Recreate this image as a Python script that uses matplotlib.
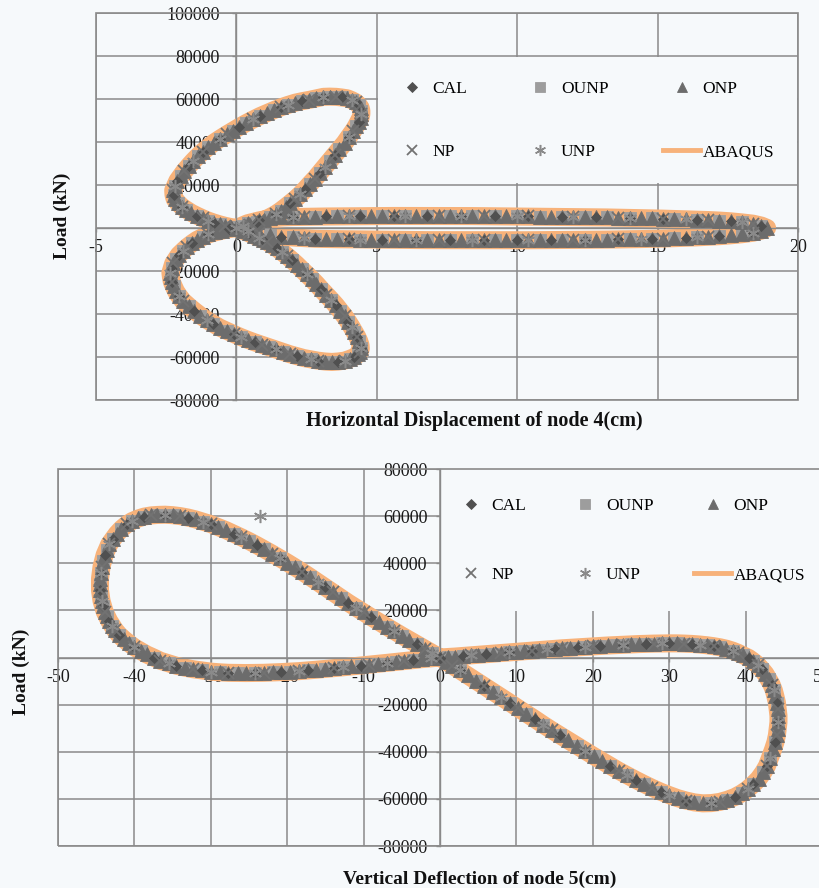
"""Load-displacement loops of nodes 4 and 5: CAL / neural-network variants against ABAQUS."""

import matplotlib

matplotlib.use("Agg")
import matplotlib.pyplot as plt
import numpy as np
from matplotlib.lines import Line2D
from matplotlib.patches import Rectangle

plt.rcParams["font.family"] = ["Liberation Serif", "DejaVu Serif"]
plt.rcParams["axes.unicode_minus"] = False

BG = "#f6f9fb"
GRID = "#8a8a8a"
ORANGE = "#f7b27a"

# node 4, horizontal displacement (cm) against load (kN): three loops through the origin
n4_upper_x = [0.0, 0.25, 0.5, 0.75, 1.0, 1.2, 1.4, 1.58, 1.75, 1.92, 2.1, 2.28, 2.45, 2.62,
              2.8, 2.97, 3.15, 3.32, 3.5, 3.67, 3.85, 4.0, 4.15, 4.26, 4.35, 4.42, 4.45,
              4.45, 4.42, 4.35, 4.25, 4.1, 3.95, 3.75, 3.55, 3.32, 3.1, 2.85, 2.6, 2.35,
              2.1, 1.85, 1.6, 1.35, 1.1, 0.85, 0.6, 0.35, 0.1, -0.12, -0.35, -0.58, -0.8,
              -1.0, -1.2, -1.38, -1.55, -1.7, -1.85, -1.98, -2.1, -2.18, -2.25, -2.24,
              -2.2, -2.08, -1.95, -1.78, -1.6, -1.4, -1.2, -1.0, -0.8, -0.6, -0.4, -0.2, 0.0]
n4_upper_y = [0, 700, 1500, 2600, 3800, 5100, 6500, 8100, 9800, 11600, 13500, 15700, 18000,
              20500, 23000, 25700, 28500, 31200, 34000, 36700, 39500, 42300, 45000, 47300,
              49500, 51300, 53000, 54600, 56000, 57300, 58500, 59500, 60300, 60700, 61000,
              61100, 61000, 60300, 59600, 59000, 58300, 57300, 56200, 54900, 53500, 52100,
              50500, 48800, 47000, 45300, 43500, 41600, 39700, 37600, 35500, 33300, 31000,
              28800, 26500, 24200, 22000, 19700, 17500, 15500, 13500, 11700, 10000, 8500,
              7000, 5700, 4500, 3400, 2500, 1700, 1000, 450, 0]

n4_right_x = [0.0, 0.4, 0.8, 1.2, 1.6, 2.0, 2.4, 2.8, 3.2, 3.6, 4.0, 4.4, 4.8, 5.2, 5.6,
              6.0, 6.4, 6.8, 7.2, 7.6, 8.0, 8.4, 8.8, 9.2, 9.6, 10.0, 10.4, 10.8, 11.2,
              11.6, 12.0, 12.4, 12.8, 13.2, 13.6, 14.0, 14.4, 14.8, 15.2, 15.6, 16.0, 16.4,
              16.8, 17.2, 17.6, 18.0, 18.4, 18.7, 18.9, 18.7, 18.4, 18.0, 17.6, 17.2, 16.8,
              16.4, 16.0, 15.6, 15.2, 14.8, 14.4, 14.0, 13.6, 13.2, 12.8, 12.4, 12.0, 11.6,
              11.2, 10.8, 10.4, 10.0, 9.6, 9.2, 8.8, 8.4, 8.0, 7.6, 7.2, 6.8, 6.4, 6.0, 5.6,
              5.2, 4.8, 4.4, 4.0, 3.6, 3.2, 2.8, 2.4, 2.0, 1.6, 1.2, 0.8, 0.4, 0.0]
n4_right_y = [0, 2200, 3500, 4500, 4900, 5100, 5200, 5300, 5350, 5400, 5450, 5500, 5500,
              5550, 5600, 5600, 5600, 5600, 5600, 5600, 5600, 5550, 5500, 5500, 5450, 5400,
              5350, 5300, 5250, 5200, 5100, 5050, 5000, 4900, 4800, 4700, 4600, 4450, 4350,
              4200, 4050, 3900, 3700, 3450, 3100, 2600, 2000, 1100, 0, -1200, -2200, -2900,
              -3400, -3800, -4100, -4350, -4550, -4750, -4900, -5050, -5150, -5250, -5300,
              -5400, -5450, -5500, -5550, -5600, -5600, -5650, -5700, -5700, -5700, -5700,
              -5700, -5700, -5700, -5700, -5700, -5650, -5600, -5600, -5550, -5500, -5400,
              -5350, -5300, -5200, -5100, -5000, -4700, -4400, -4000, -3300, -2500, -1400, 0]

n4_lower_x = [0.0, 0.22, 0.45, 0.62, 0.8, 0.95, 1.1, 1.28, 1.45, 1.62, 1.8, 1.98, 2.15,
              2.32, 2.5, 2.68, 2.85, 3.02, 3.2, 3.38, 3.55, 3.7, 3.85, 3.98, 4.1, 4.2, 4.3,
              4.37, 4.42, 4.43, 4.4, 4.32, 4.2, 4.03, 3.85, 3.62, 3.4, 3.15, 2.9, 2.65, 2.4,
              2.15, 1.9, 1.65, 1.4, 1.15, 0.9, 0.65, 0.4, 0.15, -0.1, -0.35, -0.6, -0.82,
              -1.05, -1.28, -1.5, -1.7, -1.9, -2.03, -2.15, -2.23, -2.3, -2.33, -2.35, -2.3,
              -2.25, -2.15, -2.05, -1.9, -1.75, -1.58, -1.4, -1.2, -1.0, -0.75, -0.5, -0.25,
              0.0]
n4_lower_y = [0, -1200, -2500, -3500, -4500, -5500, -6500, -8000, -9500, -11200, -13000,
              -15000, -17000, -19200, -21500, -23700, -26000, -28500, -31000, -33500,
              -36000, -38500, -41000, -43500, -46000, -48300, -50500, -52500, -54500,
              -56000, -57500, -58800, -60000, -60900, -61700, -62100, -62300, -62100,
              -61700, -61100, -60500, -59600, -58700, -57600, -56500, -55400, -54300,
              -53200, -52000, -50700, -49300, -47800, -46300, -44600, -42800, -40700,
              -38500, -36300, -34000, -31800, -29500, -27200, -25000, -22900, -20800,
              -18600, -16500, -14500, -12500, -10600, -8800, -7100, -5500, -4200, -3000,
              -2000, -1200, -500, 0]

# node 5, vertical deflection (cm) against load (kN): figure-of-eight
n5_left_x = [0, -1, -2, -3, -4, -5, -6, -7, -8, -9, -10, -11, -12, -13, -14, -15, -16, -17,
             -18, -19, -20, -21, -22, -23, -24, -25, -26, -27, -28, -29, -30, -31, -32, -33,
             -34, -35, -36, -37, -37.8, -38.7, -39.5, -40.3, -41, -41.7, -42.3, -42.8,
             -43.3, -43.6, -43.9, -44.1, -44.3, -44.4, -44.5, -44.5, -44.5, -44.4, -44.3,
             -44.1, -43.9, -43.6, -43.3, -42.9, -42.5, -42.0, -41.4, -40.7, -40.0, -39.2,
             -38.4, -37.5, -36.6, -35.5, -34.5, -33.4, -32.3, -31.1, -30, -28.8, -27.7,
             -26.5, -25.4, -24.2, -23.1, -21.9, -20.8, -19.6, -18.5, -17.3, -16.2, -15,
             -13.9, -12.7, -11.6, -10.4, -9.3, -8.1, -7, -5.8, -4.7, -3.5, -2.4, -1.2, 0]
n5_left_y = [0, 1850, 3700, 5550, 7400, 9300, 11200, 13150, 15100, 17100, 19100, 21150,
             23200, 25400, 27600, 29800, 32000, 34150, 36300, 38300, 40300, 42200, 44100,
             45900, 47700, 49400, 51000, 52500, 54000, 55300, 56600, 57600, 58600, 59400,
             60000, 60400, 60600, 60500, 60300, 59800, 59000, 57900, 56500, 54600, 52500,
             50300, 48000, 45800, 43500, 41000, 38500, 36000, 33500, 31000, 28500, 26200,
             24000, 21700, 19500, 17500, 15500, 13500, 11500, 9600, 7800, 6000, 4300, 2800,
             1300, 0, -1400, -2500, -3500, -4300, -5000, -5500, -6000, -6300, -6500, -6550,
             -6600, -6550, -6500, -6350, -6200, -6000, -5800, -5500, -5200, -4850, -4500,
             -4150, -3800, -3450, -3100, -2700, -2300, -1900, -1500, -1100, -700, -350, 0]

n5_right_x = [0, 1, 2, 3, 4, 5, 6, 7, 8, 9, 10, 11, 12, 13, 14, 15, 16, 17, 18, 19, 20, 21,
              22, 23, 24, 25, 26, 27, 28, 29, 30, 31, 32, 33, 34, 34.9, 35.8, 36.7, 37.5,
              38.3, 39, 39.7, 40.4, 41, 41.6, 42.1, 42.6, 43, 43.4, 43.7, 43.9, 44.1, 44.2,
              44.3, 44.3, 44.2, 44.1, 43.9, 43.6, 43.2, 42.8, 42.3, 41.7, 41, 40.3, 39.5,
              38.6, 37.6, 36.6, 35.5, 34.4, 33.3, 32.2, 31.1, 30, 28.9, 27.8, 26.7, 25.6,
              24.5, 23.4, 22.3, 21.2, 20.1, 19, 17.9, 16.8, 15.7, 14.6, 13.5, 12.4, 11.3,
              10.2, 9.1, 8, 6.9, 5.8, 4.7, 3.6, 2.6, 1.6, 0.8, 0]
n5_right_y = [0, 200, 400, 650, 900, 1150, 1400, 1650, 1900, 2150, 2400, 2650, 2900, 3150,
              3400, 3650, 3900, 4100, 4300, 4500, 4700, 4900, 5100, 5250, 5400, 5550, 5700,
              5800, 5900, 5950, 6000, 6000, 5900, 5750, 5500, 5200, 4800, 4300, 3700, 2900,
              2000, 900, -200, -1600, -3200, -5000, -7000, -9200, -11500, -14000, -16500,
              -19200, -22000, -24700, -27500, -30200, -33000, -36000, -39000, -42500,
              -46000, -48800, -51500, -53800, -55800, -57600, -59200, -60400, -61300,
              -61800, -61900, -61500, -60700, -59700, -58400, -57000, -55400, -53700,
              -51900, -50000, -48100, -46000, -43900, -41800, -39600, -37400, -35200,
              -33000, -30800, -28500, -26100, -23800, -21500, -19100, -16800, -14500,
              -12200, -9900, -7600, -5500, -3400, -1700, 0]

# stray UNP point above the node 5 loop
n5_unp_extra_x = [-23.6]
n5_unp_extra_y = [60000]

legend_order = ["CAL", "NP", "OUNP", "UNP", "ONP", "ABAQUS"]

# marker, colour, size in plot, size in legend, edge width, subset of the load steps
STYLES = {
    "OUNP": ("s", "#9d9d9d", 8.5, 6.5, 0.0, slice(1, None, 2)),
    "ONP": ("^", "#6c6c6c", 10.0, 7.0, 0.0, slice(None)),
    "CAL": ("D", "#505050", 5.5, 4.6, 0.0, slice(0, None, 3)),
    "NP": ("x", "#727272", 8.5, 7.0, 1.3, slice(2, None, 4)),
    "UNP": ((6, 2, 0), "#8a8a8a", 9.5, 8.0, 1.1, slice(1, None, 5)),
}


def draw_loops(ax, xs, ys, extra_x=(), extra_y=()):
    xs = np.asarray(xs, dtype=float)
    ys = np.asarray(ys, dtype=float)
    ax.plot(xs, ys, color=ORANGE, lw=13, solid_joinstyle="round",
            solid_capstyle="round", zorder=2)
    for name, (mk, col, ms, _, mew, sl) in STYLES.items():
        px, py = xs[sl], ys[sl]
        if name == "UNP":
            px = np.concatenate([px, extra_x])
            py = np.concatenate([py, extra_y])
        ax.plot(px, py, ls="none", marker=mk, ms=ms, color=col, mec=col,
                mew=mew if mew else 0.6, zorder=3)


def style_axes(ax, xticks, yticks, ypad):
    ax.set_facecolor(BG)
    ax.set_xlim(xticks[0], xticks[-1])
    ax.set_ylim(yticks[0], yticks[-1])
    ax.set_xticks(xticks)
    ax.set_yticks(yticks)
    ax.set_xticklabels([f"{v:g}" for v in xticks])
    ax.set_yticklabels([f"{v:.0f}" for v in yticks])
    for side in ("top", "right"):
        ax.spines[side].set_visible(False)
    for side in ("left", "bottom"):
        ax.spines[side].set_position(("data", 0))
        ax.spines[side].set_color(GRID)
        ax.spines[side].set_linewidth(1.0)
    ax.grid(True, color=GRID, lw=1.1)
    ax.set_axisbelow(True)
    ax.tick_params(axis="both", direction="out", length=3, width=1, color=GRID,
                   labelsize=13, labelcolor="#1a1a1a")
    ax.tick_params(axis="x", pad=5)
    ax.tick_params(axis="y", pad=ypad)
    ax.add_patch(Rectangle((0, 0), 1, 1, transform=ax.transAxes, fill=False,
                           ec=GRID, lw=1.2, clip_on=False, zorder=6))


def add_legend(ax, box, content, spacing):
    # background block that hides the grid behind the legend
    ax.add_patch(Rectangle(box[:2], box[2], box[3], transform=ax.transAxes,
                           fc=BG, ec="none", zorder=1.5, clip_on=True))
    handles = []
    for name in legend_order:
        if name == "ABAQUS":
            handles.append(Line2D([], [], color=ORANGE, lw=3.5))
        else:
            mk, col, _, lms, mew, _ = STYLES[name]
            handles.append(Line2D([], [], ls="none", marker=mk, ms=lms, color=col,
                                  mec=col, mew=mew if mew else 0.6))
    ax.legend(handles, legend_order, ncol=3, mode="expand", loc="center",
              bbox_to_anchor=content, borderaxespad=0, borderpad=0, frameon=False,
              numpoints=1, handlelength=2.1, handletextpad=0.15,
              labelspacing=spacing, prop={"size": 12.5})


fig = plt.figure(figsize=(8.2, 8.88), dpi=100)
fig.patch.set_facecolor(BG)

W, H = 820.0, 888.0


def axes_at(left, top, right, bottom):
    return fig.add_axes([left / W, 1 - bottom / H, (right - left) / W, (bottom - top) / H])


def frac(ax_box, px_x, px_y):
    l, t, r, b = ax_box
    return (px_x - l) / (r - l), (b - px_y) / (b - t)


# node 4 panel
box1 = (96, 13, 798, 400)
ax1 = axes_at(*box1)
style_axes(ax1, np.arange(-5, 21, 5), np.arange(-80000, 100001, 20000), 9)
draw_loops(ax1, n4_upper_x + n4_right_x[1:] + n4_lower_x[1:],
           n4_upper_y + n4_right_y[1:] + n4_lower_y[1:])
x0, y0 = frac(box1, 378, 183)
x1, y1 = frac(box1, 797, 57)
c0, r0 = frac(box1, 393.5, 152)
c1, r1 = frac(box1, 774, 89)
add_legend(ax1, (x0, y0, x1 - x0, y1 - y0), (c0, r0, c1 - c0, r1 - r0), 2.7)

# node 5 panel
box2 = (58, 469, 822, 846)
ax2 = axes_at(*box2)
style_axes(ax2, np.arange(-50, 51, 10), np.arange(-80000, 80001, 20000), 6)
draw_loops(ax2, n5_left_x + n5_right_x[1:], n5_left_y + n5_right_y[1:],
           n5_unp_extra_x, n5_unp_extra_y)
x0, y0 = frac(box2, 441, 611)
x1, y1 = frac(box2, 822, 469)
c0, r0 = frac(box2, 452.5, 575)
c1, r1 = frac(box2, 805, 506)
add_legend(ax2, (x0, y0, x1 - x0, y1 - y0), (c0, r0, c1 - c0, r1 - r0), 3.05)

title_kw = dict(fontweight="bold", color="#111111")
fig.text(474.5 / W, 1 - 421 / H, "Horizontal Displacement of node 4(cm)", ha="center",
         va="center", fontsize=14.5, **title_kw)
fig.text(62 / W, 1 - 216 / H, "Load (kN)", rotation=90, ha="center", va="center",
         fontsize=14, **title_kw)
fig.text(480 / W, 1 - 879 / H, "Vertical Deflection of node 5(cm)", ha="center",
         va="center", fontsize=14, **title_kw)
fig.text(21 / W, 1 - 672 / H, "Load (kN)", rotation=90, ha="center", va="center",
         fontsize=14, **title_kw)

fig.savefig("out.png", dpi=100, facecolor=BG)
